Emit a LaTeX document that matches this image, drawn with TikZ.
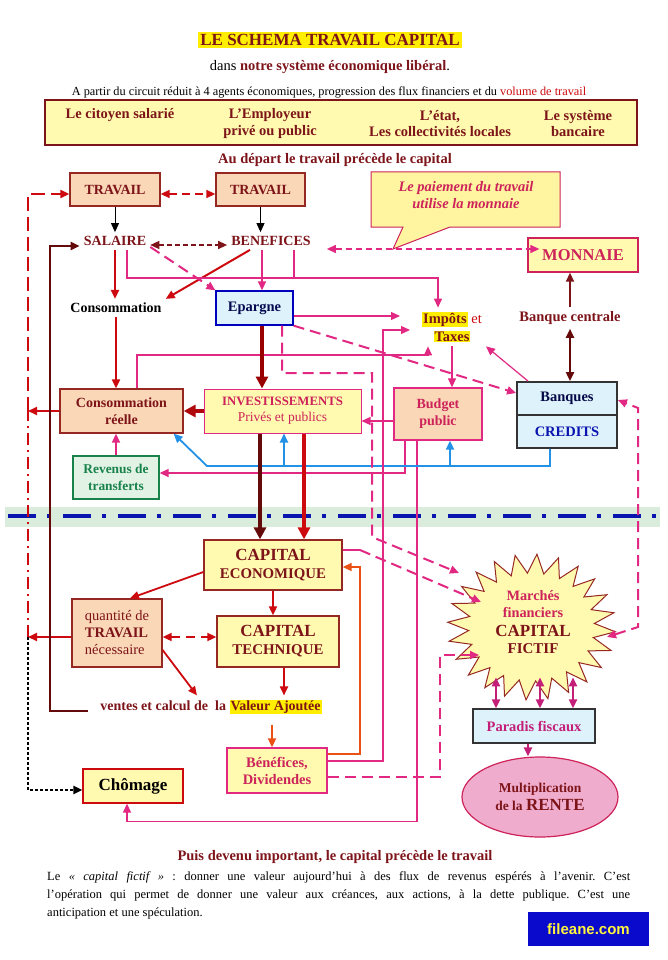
\documentclass[tikz,border=0pt]{standalone}
\usepackage{fontspec}
\setmainfont{Liberation Serif}
\newfontfamily\sansbf{Liberation Sans}
\usetikzlibrary{arrows.meta,shapes.geometric,calc}
\definecolor{dred}{RGB}{125,20,25}
\definecolor{crim}{RGB}{205,35,90}
\definecolor{mag}{RGB}{195,30,120}
\definecolor{pinkl}{RGB}{225,40,130}
\definecolor{redl}{RGB}{205,10,15}
\definecolor{maroonc}{RGB}{100,10,10}
\definecolor{orng}{RGB}{235,80,20}
\definecolor{bluel}{RGB}{35,145,230}
\definecolor{navyc}{RGB}{10,20,175}
\definecolor{yel}{RGB}{255,250,175}
\definecolor{bubf}{RGB}{255,245,160}
\definecolor{hly}{RGB}{255,238,0}
\definecolor{peach}{RGB}{250,215,182}
\definecolor{lblue}{RGB}{222,242,252}
\definecolor{grn}{RGB}{25,130,75}
\definecolor{lgrn}{RGB}{226,243,230}
\definecolor{bandg}{RGB}{218,236,220}
\definecolor{pinkf}{RGB}{240,172,205}
\definecolor{brb}{RGB}{150,40,35}
\definecolor{fblue}{RGB}{10,10,205}
\definecolor{fyel}{RGB}{255,245,60}
\newcommand\fsz[2]{\fontsize{#1}{#2}\selectfont}
\newcommand\hlt[1]{{\setlength{\fboxsep}{1pt}\colorbox{hly}{#1}}}
\frenchspacing
\begin{document}
\begin{tikzpicture}[x=1pt,y=-1pt,
  >={Triangle[length=9pt,width=8pt]},
  every node/.style={inner sep=1pt, align=center},
  bx/.style={draw, line width=1.3pt, inner sep=0pt},
  txt/.style={inner sep=4pt},
  hdrt/.style={font={\fsz{14.5}{16.5}\bfseries}, text=dred},
  pk/.style={draw=pinkl, line width=1.2pt},
  pkd/.style={draw=pinkl, line width=2pt, dash pattern=on 11pt off 6pt},
  rd/.style={draw=redl, line width=2pt},
  thk/.style={line width=3.2pt, -{Triangle[length=12pt,width=12pt]}},
]
\useasboundingbox (0,0) rectangle (667,960);
\fill[white] (0,0) rectangle (667,960);

% ---------- titles
\node (title) at (330,40) {\fsz{17}{20}\bfseries\color{dred}\setlength{\fboxsep}{2.5pt}\colorbox{hly}{LE SCHEMA TRAVAIL CAPITAL}};
\node (sub) at (330,67) {\fsz{14.5}{17}dans \textbf{\color{dred}notre système économique libéral}.};
\node (apartir) at (329,92) {\fsz{12.3}{14}A partir du circuit réduit à 4 agents économiques, progression des flux financiers et du \textcolor{redl}{volume de travail}};
\node[draw=dred, line width=2.8pt, fill=yel, minimum width=592pt, minimum height=45pt, inner sep=0] (hdr) at (341,122.5) {};
\node[hdrt] (h1) at (120,115) {Le citoyen salarié};
\node[hdrt] (h2) at (270,123.5) {L’Employeur\\privé ou public};
\node[hdrt] (h3) at (440,123.5) {L’état,\\Les collectivités locales};
\node[hdrt] (h4) at (578,123.5) {Le système\\bancaire};
\node (depart) at (335,160) {\fsz{14.5}{17}\bfseries\color{dred}Au départ le travail précède le capital};

% ---------- band
\fill[bandg] (5,507) rectangle (660,527);
\draw[navyc, line width=4pt, dash pattern=on 28pt off 11pt on 4pt off 12pt] (8,516) -- (660,516);

% ---------- bubble
\draw[fill=bubf, draw=crim, line width=1pt] (371,172) -- (560,172) -- (560,227) -- (450,227) -- (393,249) -- (403,227) -- (371,227) -- cycle;
\node[font={\fsz{14.5}{17}\bfseries\itshape}, text=crim] (bub) at (466,195) {Le paiement du travail\\utilise la monnaie};

% ---------- upper nodes
\node[bx, draw=brb, fill=peach, minimum width=90pt, minimum height=33pt, font={\fsz{14}{16}\bfseries}, text=dred] (trav1) at (115,189.5) {TRAVAIL};
\node[bx, draw=brb, fill=peach, minimum width=89pt, minimum height=33pt, font={\fsz{14}{16}\bfseries}, text=dred] (trav2) at (260.5,189.5) {TRAVAIL};
\node[txt, font={\fsz{14}{16}\bfseries}, text=dred] (sal) at (115,241) {SALAIRE};
\node[txt, font={\fsz{14}{16}\bfseries}, text=dred] (ben) at (271,241) {BENEFICES};
\node[txt, font={\fsz{14}{16}\bfseries}] (cons) at (116,308) {Consommation};
\node[bx, draw=blue!75!black, fill=lblue, minimum width=77pt, minimum height=34pt, font={\fsz{14.5}{16}\bfseries}, text=navyc!45!black] (epargne) at (254.5,308) {Epargne};
\node[bx, draw=crim, fill=yel, minimum width=110pt, minimum height=34pt, font={\fsz{16.5}{18}\bfseries}, text=crim] (monnaie) at (583,255) {MONNAIE};
\node[txt, font={\fsz{14.5}{16}\bfseries}, text=dred] (bc) at (570,318) {Banque centrale};
\node[txt, font={\fsz{14.5}{18}\bfseries}, text=dred] (impots) at (452,327) {\hlt{Impôts} {\mdseries\color{redl}et}\\\hlt{Taxes}};
\node[bx, draw=pinkl, fill=peach, minimum width=88pt, minimum height=52pt, font={\fsz{14}{17}\bfseries}, text=crim] (budget) at (438,414) {Budget\\public};
\node[bx, draw=black!80, line width=1.8pt, fill=lblue, minimum width=100pt, minimum height=66pt] (banques) at (567,415) {};
\draw[black!80, line width=1.5pt] (banques.west) -- (banques.east);
\node[font={\fsz{14.5}{16}\bfseries}, text=navyc!40!black] (banqt) at (567,398.5) {Banques};
\node[font={\fsz{14.5}{16}\bfseries}, text=navyc] (credt) at (567,431.5) {CREDITS};
\node[bx, draw=pinkl, line width=1pt, fill=yel, minimum width=157pt, minimum height=44pt, font={\fsz{12.8}{16}\bfseries}, text=crim] (invest) at (282.5,411) {INVESTISSEMENTS\\{\mdseries\fsz{13.5}{16}Privés et publics}};
\node[bx, draw=brb, fill=peach, minimum width=123pt, minimum height=44pt, font={\fsz{14}{16.5}\bfseries}, text=dred] (consr) at (121.5,411) {Consommation\\réelle};
\node[bx, draw=grn, fill=lgrn, minimum width=86pt, minimum height=43pt, font={\fsz{13.4}{17}\bfseries}, text=grn] (revenus) at (116,477.5) {Revenus de\\transferts};

% ---------- lower nodes
\node[bx, draw=brb, fill=yel, minimum width=138pt, minimum height=50pt, font={\fsz{17}{18}\bfseries}, text=dred] (capeco) at (273,565) {CAPITAL\\{\fsz{14.8}{18}ECONOMIQUE}};
\node[bx, draw=brb, fill=peach, minimum width=90pt, minimum height=68pt, font={\fsz{14.5}{17}}, text=dred, align=left] (qtrav) at (117,633) {quantité de\\{\bfseries TRAVAIL}\\nécessaire};
\node[bx, draw=brb, fill=yel, minimum width=122pt, minimum height=51pt, font={\fsz{17}{18}\bfseries}, text=dred] (captech) at (278,641.5) {CAPITAL\\{\fsz{14.9}{18}TECHNIQUE}};
\node[txt, font={\fsz{14}{16}\bfseries}, text=dred] (ventes) at (211,707) {ventes et calcul de\ \ la \hlt{Valeur Ajoutée}};
\node[bx, draw=pinkl, fill=yel, minimum width=100pt, minimum height=45pt, font={\fsz{14.5}{17}\bfseries}, text=crim] (benef2) at (277,770.5) {Bénéfices,\\Dividendes};
\node[bx, draw=redl, fill=yel, minimum width=100pt, minimum height=34pt, font={\fsz{17}{18}\bfseries}] (chomage) at (133,786) {Chômage};

% star
\draw[fill=yel, draw=brb, line width=1pt] plot[variable=\k, samples at={0,...,47}] ({531.5+(84-21*mod(\k,2))*cos(\k*7.5+3.75)}, {627+(73-19*mod(\k,2))*sin(\k*7.5+3.75)}) -- cycle;
\node[ellipse, minimum width=126pt, minimum height=108pt, inner sep=0] (mf) at (531.5,627) {};
\node[font={\fsz{14.3}{17.5}\bfseries}] (mftxt) at (533,622) {{\color{crim}Marchés}\\{\color{crim}financiers}\\[1pt]{\color{dred}\fsz{17}{19}CAPITAL}\\{\color{dred}\fsz{15}{17}FICTIF}};
\node[bx, draw=black!80, fill=lblue, minimum width=122pt, minimum height=34pt, font={\fsz{14.5}{16}\bfseries}, text=mag] (paradis) at (534,726) {Paradis fiscaux};
\node[ellipse, draw=crim, fill=pinkf, line width=1.2pt, minimum width=156pt, minimum height=80pt, inner sep=0, font={\fsz{13.5}{18}\bfseries}, text=dred] (rente) at (540,797) {Multiplication\\de la {\fsz{17}{18}RENTE}};

% ---------- bottom text
\node[font={\fsz{14.5}{17}\bfseries}, text=dred] (puis) at (335,857) {Puis devenu important, le capital précède le travail};
\node[text width=583pt, align=justify, font={\fsz{12.5}{18}}, inner sep=0, anchor=north west] (para) at (47,871) {Le \textit{« capital fictif »} : donner une valeur aujourd’hui à des flux de revenus espérés à l’avenir. C’est\linebreak l’opération qui permet de donner une valeur aux créances, aux actions, à la dette publique. C’est une\linebreak anticipation et une spéculation.};
\node[fill=fblue, minimum width=121pt, minimum height=34pt, inner sep=0, font={\sansbf\bfseries\fsz{15}{17}}, text=fyel] (fil) at (588.5,929) {fileane.com};

% ---------- coordinates
\coordinate (Ltop) at (28,194);
\coordinate (Lmid) at (28,411);
\coordinate (Lbot) at (28,637);
\coordinate (Lm) at (50,246);
\coordinate (pj) at (438,278);
\coordinate (impw1) at ([xshift=-18]impots.west);
\coordinate (impw2) at ([xshift=-8]impots.west);
\coordinate (cr) at (428,355);
\coordinate (pc) at (383,330);
\coordinate (oc) at (360,567);
\coordinate (dc) at (440,655);
\coordinate (ed1) at (372,373);
\coordinate (ed2) at (372,537);
\coordinate (cc) at (360,550);
\coordinate (cb) at (207,466);
\coordinate (sA) at (459,573);
\coordinate (sB) at (481,602);
\coordinate (sC) at (479,655);
\coordinate (sD) at (607,637);
\coordinate (rb1) at (638,627);
\coordinate (rb2) at (638,408);

% ---------- connectors top
\draw[->, line width=1pt] (trav1.south) -- (trav1.south |- sal.north);
\draw[->, line width=1pt] (trav2.south) -- (trav2.south |- ben.north);
\draw[<->, redl, line width=1.6pt, dash pattern=on 8pt off 5pt] ([yshift=-4.5]trav1.east) -- ([yshift=-4.5]trav2.west);
\draw[<->, dred, line width=1.3pt, dash pattern=on 5pt off 3pt] ([yshift=-4]sal.east) -- ([yshift=-4]ben.west);
\draw[->, rd] (sal.south) -- (sal.south |- cons.north);
\draw[->, rd] ([xshift=-21]ben.south) -- (cons.north east);
\draw[->, pkd] ([yshift=-6]sal.east) -- (epargne.north west);
\draw[->, pinkl, line width=1.5pt] ([xshift=-9]ben.south) -- ([xshift=-9]ben.south |- epargne.north);
\draw[pk] ([xshift=12]sal.south) |- (pj);
\draw[->, pk] ([xshift=23]ben.south) |- (pj) -- (pj |- impots.north);
\draw[<->, pinkl, line width=1.3pt, dash pattern=on 6pt off 4pt] ([xshift=12,yshift=-8]ben.east) -- ([xshift=12,yshift=-8]ben.east -| monnaie.west);
\draw[->, pk] ([yshift=-8]epargne.east) -- ([yshift=-8]epargne.east -| impw1);
\draw[->, pk] ([xshift=15.5]consr.north) |- (cr) -- (cr |- impots.south);
\draw[->, pk] ([xshift=-39]banques.north) -- (impots.south east);
\draw[->, pk] (impots.south) -- (impots.south |- budget.north);
\draw[->, dred, line width=1.5pt] (bc.north) -- (bc.north |- monnaie.south);
\draw[<->, maroonc, line width=2pt] (bc.south) -- (bc.south |- banques.north);
\draw[->, pkd] (epargne.south east) -- ([yshift=22]banques.west);
\draw[thk, red!60!black] ([xshift=7.5]epargne.south) -- ([xshift=7.5]epargne.south |- invest.north);
\draw[thk, redl!85!black] (invest.west) -- (consr.east);
\draw[->, rd] (cons.south) -- (cons.south |- consr.north);
\draw[->, pk] ([yshift=-7]budget.west) -- ([yshift=-7]budget.west -| invest.east);
\draw[->, pk] ([xshift=-33]budget.south) |- ([yshift=4.5]revenus.east);
\draw[->, pk] ([xshift=-21]budget.south) -- ++(0,381) -| ([xshift=-6]chomage.south);
\draw[->, bluel, line width=1.8pt] ([xshift=-17]banques.south) |- (cb) -- ([xshift=-10]consr.south east);
\draw[<-, bluel, line width=1.8pt] ([xshift=1.5]invest.south) -- ++(0,33);
\draw[<-, bluel, line width=1.8pt] ([xshift=12]budget.south) -- ++(0,26);
\draw[->, pinkl, line width=1.5pt] (revenus.north) -- (revenus.north |- consr.south);
\draw[->, rd] (consr.west) -- (consr.west -| Ltop);
\draw[->, rd] ([yshift=-4]qtrav.west) -- ([yshift=-4]qtrav.west -| Ltop);
\draw[redl, line width=2pt, dash pattern=on 12pt off 5pt on 2pt off 5pt] (Lbot) -- (Lmid);
\draw[->, redl, line width=2pt, dash pattern=on 14pt off 6pt] (Lmid) -- (Ltop) -- (Ltop -| trav1.west);
\draw[->, line width=2.6pt, dash pattern=on 2.6pt off 2.4pt] (Lbot) |- ([yshift=-4]chomage.west);
\draw[->, maroonc, line width=2.2pt] ([xshift=-8,yshift=-4]ventes.west) -| (Lm) -- ([yshift=-5]sal.west);

% ---------- connectors bottom
\draw[thk, maroonc] ([xshift=-22.5]invest.south) -- ([xshift=-22.5]invest.south |- capeco.north);
\draw[thk, redl] ([xshift=21.5]invest.south) -- ([xshift=21.5]invest.south |- capeco.north);
\draw[->, redl, line width=1.8pt] ([yshift=-7]capeco.west) -- ([xshift=13]qtrav.north);
\draw[->, redl, line width=1.8pt] (capeco.south) -- (capeco.south |- captech.north);
\draw[<->, redl, line width=1.8pt, dash pattern=on 9pt off 6pt] ([yshift=-4]qtrav.east) -- ([yshift=-4]qtrav.east -| captech.west);
\draw[->, redl, line width=1.8pt] ([yshift=-17]qtrav.east) -- ([xshift=-14]ventes.north);
\draw[->, redl, line width=1.8pt] ([xshift=6]captech.south) -- ([xshift=6]captech.south |- ventes.north);
\draw[->, orng, line width=1.8pt, shorten <=6pt] ([xshift=61]ventes.south) -- ([xshift=61]ventes.south |- benef2.north);
\draw[->, orng, line width=1.5pt] ([yshift=16.5]benef2.east) -| (oc) -- (oc -| capeco.east);
\draw[->, pk] ([yshift=9.5]benef2.east) -| (pc) -- (pc -| impw2);
\draw[->, pkd] ([yshift=-6.5]benef2.east) -| (dc) -- (sC);
\draw[->, pkd] ([xshift=27.5]epargne.south) |- (ed1) -- (ed2) -- (sA);
\draw[pinkl, line width=1.5pt] ([yshift=15]capeco.east) -- (cc);
\draw[->, pkd] (cc) -- (sB);
\draw[<->, pkd] (sD) -- (rb1) -- (rb2) -- ([yshift=15]banques.east);
\foreach \dx in {-38,6,39} \draw[<->, mag, line width=2pt] ([xshift=\dx]paradis.north) -- ++(0,-31);
\draw[->, mag, line width=2pt] ([xshift=-6]paradis.south) -- ([xshift=-6]paradis.south |- rente.north);
\end{tikzpicture}
\end{document}
